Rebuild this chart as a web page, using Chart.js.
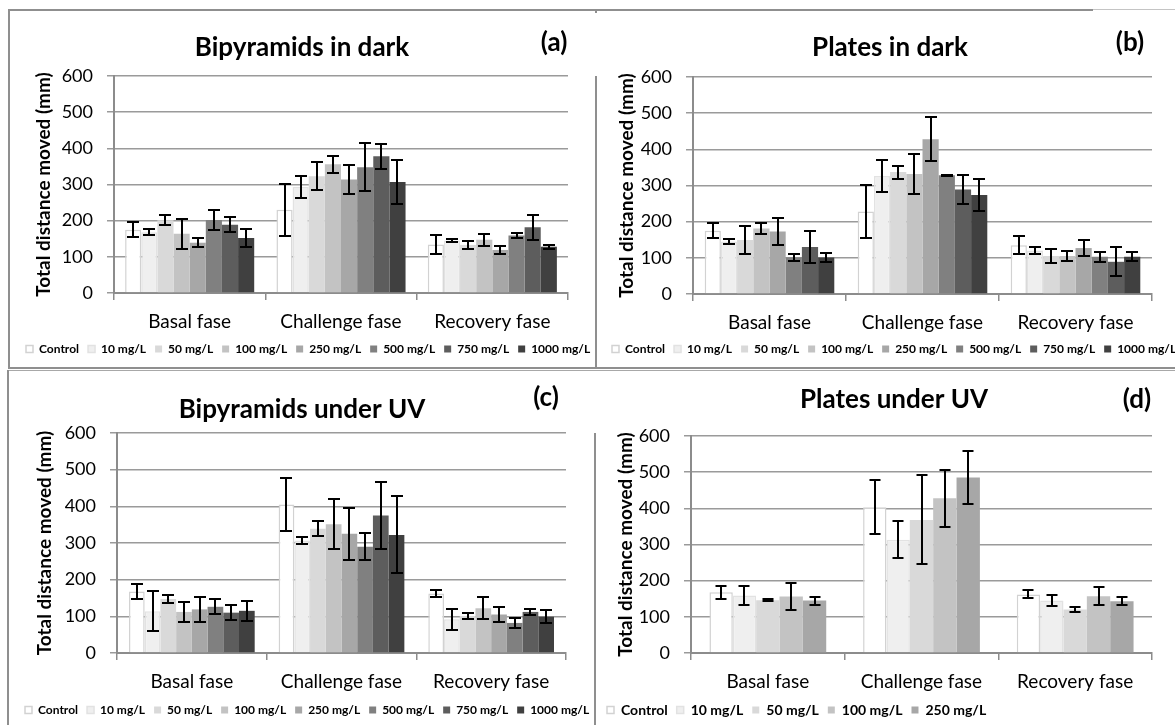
<!DOCTYPE html>
<html>
<head>
<meta charset="utf-8">
<script src="https://cdn.jsdelivr.net/npm/chart.js@4.4.1/dist/chart.umd.min.js"></script>
<style>
    html, body { margin: 0; padding: 0; background: #fff; }
    body { width: 1175px; height: 725px; position: relative; overflow: hidden; }
    canvas { position: absolute; }
    .ln { position: absolute; background: #8f8f8f; }
</style>
</head>
<body>
<div class="ln" style="left:8px;top:9px;width:1085px;height:2px;"></div>
<div class="ln" style="left:1093px;top:9px;width:82px;height:1px;background:#c4c4c4;"></div>
<div class="ln" style="left:8px;top:9px;width:2px;height:360px;"></div>
<div class="ln" style="left:595px;top:9px;width:2px;height:4px;"></div>
<div class="ln" style="left:595px;top:76px;width:2px;height:293px;"></div>
<div class="ln" style="left:8px;top:367px;width:1167px;height:2px;"></div>
<div class="ln" style="left:7px;top:370px;width:1168px;height:1px;background:#a8a8a8;"></div>
<div class="ln" style="left:7px;top:370px;width:2px;height:355px;"></div>
<div class="ln" style="left:594px;top:433px;width:2px;height:292px;"></div>

<canvas id="chartA" width="640" height="357" style="left:9px;top:11px;"></canvas>
<canvas id="chartB" width="640" height="357" style="left:597px;top:11px;"></canvas>
<canvas id="chartC" width="640" height="358" style="left:8px;top:371px;"></canvas>
<canvas id="chartD" width="640" height="358" style="left:596px;top:371px;"></canvas>

<script>
    'use strict';

    // categories and series
    const phases = ['Basal fase', 'Challenge fase', 'Recovery fase'];
    const doses = ['Control', '10 mg/L', '50 mg/L', '100 mg/L', '250 mg/L', '500 mg/L', '750 mg/L', '1000 mg/L'];
    const yMax = 600;
    const yStep = 100;
    const yTitle = 'Total distance moved (mm)';

    // (a) Bipyramids in dark: one row per dose, [basal, challenge, recovery]
    const bipyDarkMean = [
        [175, 230, 134],
        [168, 293, 145],
        [201, 323, 133],
        [164, 356, 147],
        [139, 314, 119],
        [202, 348, 159],
        [189, 378, 182],
        [152, 307, 128]
    ];
    const bipyDarkErr = [
        [21, 72, 25],
        [9, 31, 5],
        [14, 39, 11],
        [41, 24, 16],
        [13, 40, 12],
        [27, 66, 7],
        [21, 35, 35],
        [26, 60, 6]
    ];

    // (b) Plates in dark
    const plateDarkMean = [
        [175, 228, 135],
        [145, 326, 120],
        [149, 337, 105],
        [181, 332, 105],
        [173, 428, 127],
        [101, 328, 103],
        [130, 289, 89],
        [101, 274, 103]
    ];
    const plateDarkErr = [
        [21, 73, 24],
        [6, 44, 10],
        [39, 18, 20],
        [15, 56, 14],
        [38, 61, 21],
        [10, 2, 14],
        [45, 40, 40],
        [12, 44, 13]
    ];

    // (c) Bipyramids under UV
    const bipyUvMean = [
        [168, 405, 162],
        [114, 307, 92],
        [147, 339, 101],
        [112, 351, 122],
        [119, 325, 105],
        [126, 290, 82],
        [110, 375, 112],
        [115, 322, 99]
    ];
    const bipyUvErr = [
        [20, 72, 10],
        [54, 9, 29],
        [10, 20, 9],
        [28, 68, 30],
        [35, 71, 21],
        [20, 36, 13],
        [20, 91, 9],
        [27, 105, 17]
    ];

    // (d) Plates under UV (only up to 250 mg/L)
    const plateUvMean = [
        [168, 403, 162],
        [159, 313, 145],
        [146, 368, 120],
        [156, 428, 157],
        [145, 485, 143]
    ];
    const plateUvErr = [
        [18, 74, 11],
        [27, 51, 15],
        [3, 123, 6],
        [38, 79, 25],
        [11, 74, 11]
    ];

    const doseFill = ['#ffffff', '#efefef', '#d9d9d9', '#c3c3c3', '#a7a7a7', '#808080', '#5d5d5d', '#404040'];
    const doseBorder = ['#d2d2d2', '#e2e2e2', null, null, null, null, null, null];

    Chart.defaults.font.family = 'Lato, "Open Sans", sans-serif';
    Chart.defaults.color = '#000';

    const errorBars = {
        id: 'errorBars',
        afterDatasetsDraw: function(chart, args, opts) {
            const ctx = chart.ctx;
            const ys = chart.scales.y;
            const half = (opts.cap || 12) / 2;
            ctx.save();
            ctx.strokeStyle = '#000';
            ctx.lineWidth = 2;
            chart.data.datasets.forEach(function(ds, i) {
                const meta = chart.getDatasetMeta(i);
                meta.data.forEach(function(bar, j) {
                    const m = ds.data[j], e = ds.errors[j];
                    const yt = Math.round(ys.getPixelForValue(m + e));
                    const yb = Math.round(ys.getPixelForValue(m - e));
                    const x = Math.round(bar.x);
                    ctx.beginPath();
                    ctx.moveTo(x, yt); ctx.lineTo(x, yb);
                    ctx.moveTo(x - half, yt); ctx.lineTo(x + half, yt);
                    ctx.moveTo(x - half, yb); ctx.lineTo(x + half, yb);
                    ctx.stroke();
                });
            });
            ctx.restore();
        }
    };

    const panelText = {
        id: 'panelText',
        afterDraw: function(chart, args, opts) {
            const ctx = chart.ctx;
            ctx.save();
            ctx.fillStyle = '#000';
            ctx.textAlign = 'center';
            ctx.textBaseline = 'middle';
            ctx.font = 'bold 26px Lato, "Open Sans", sans-serif';
            ctx.fillText(opts.title, opts.titleX, opts.titleY);
            ctx.fillText(opts.tag, opts.tagX, opts.tagY);
            ctx.restore();
        }
    };

    function makePanel(p) {
        const datasets = p.means.map(function(row, i) {
            return {
                label: doses[i],
                data: row,
                errors: p.errs[i],
                backgroundColor: doseFill[i],
                borderColor: doseBorder[i] || doseFill[i],
                borderWidth: doseBorder[i] ? 1.5 : 0,
                categoryPercentage: p.catPct,
                barPercentage: 1.0
            };
        });

        return new Chart(document.getElementById(p.id), {
            type: 'bar',
            data: { labels: phases, datasets: datasets },
            plugins: [errorBars, panelText],
            options: {
                responsive: false,
                animation: false,
                layout: { padding: { left: p.padLeft, right: 0, top: p.areaTop, bottom: p.padBottom } },
                plugins: {
                    tooltip: { enabled: false },
                    legend: {
                        position: 'bottom',
                        align: 'start',
                        labels: {
                            boxWidth: 7,
                            boxHeight: 7,
                            padding: 9,
                            color: '#000',
                            font: { size: p.legendSize, weight: 'bold' }
                        }
                    },
                    errorBars: { cap: p.cap },
                    panelText: {
                        title: p.title, tag: p.tag,
                        titleX: p.titleX, titleY: p.titleY,
                        tagX: p.tagX, tagY: p.tagY
                    }
                },
                scales: {
                    x: {
                        grid: { display: true, drawOnChartArea: false, drawTicks: true, tickLength: 7, color: '#8c8c8c', lineWidth: 1.5, offset: true },
                        border: { display: true, color: '#8c8c8c', width: 2 },
                        ticks: { font: { size: 19 }, color: '#000', padding: 10, maxRotation: 0, autoSkip: false },
                        afterFit: function(s) { s.height = p.xHeight; }
                    },
                    y: {
                        min: 0,
                        max: yMax,
                        ticks: { stepSize: yStep, font: { size: 18 }, color: '#000', padding: 14 },
                        grid: { color: '#9a9a9a', lineWidth: 1.5, tickLength: 7, drawTicks: true },
                        border: { display: true, color: '#8c8c8c', width: 2 },
                        title: {
                            display: true,
                            text: yTitle,
                            color: '#000',
                            font: { size: 19, weight: 'bold', lineHeight: 1 },
                            padding: { top: p.yTitlePad, bottom: 0 }
                        },
                        afterFit: function(s) { s.width = p.yWidth; }
                    },
                    gap: {
                        position: 'right',
                        display: true,
                        grid: { display: false },
                        border: { display: false },
                        ticks: { display: false },
                        afterFit: function(s) { s.width = p.rightGap; }
                    }
                }
            }
        });
    }

    makePanel({
        id: 'chartA', title: 'Bipyramids in dark', tag: '(a)',
        means: bipyDarkMean, errs: bipyDarkErr,
        catPct: 0.853, cap: 12, legendSize: 12,
        padLeft: 8, yWidth: 97, yTitlePad: 17.5, rightGap: 81,
        areaTop: 65, padBottom: 3, xHeight: 41,
        titleX: 293, titleY: 37, tagX: 545, tagY: 32
    });

    makePanel({
        id: 'chartB', title: 'Plates in dark', tag: '(b)',
        means: plateDarkMean, errs: plateDarkErr,
        catPct: 0.847, cap: 12, legendSize: 12,
        padLeft: 6, yWidth: 90, yTitlePad: 14.5, rightGap: 85,
        areaTop: 66, padBottom: 3, xHeight: 40,
        titleX: 293, titleY: 37, tagX: 533, tagY: 32
    });

    makePanel({
        id: 'chartC', title: 'Bipyramids under UV', tag: '(c)',
        means: bipyUvMean, errs: bipyUvErr,
        catPct: 0.84, cap: 12, legendSize: 12,
        padLeft: 8, yWidth: 101, yTitlePad: 19, rightGap: 82,
        areaTop: 62, padBottom: 3, xHeight: 42,
        titleX: 294, titleY: 39, tagX: 538, tagY: 27
    });

    makePanel({
        id: 'chartD', title: 'Plates under UV', tag: '(d)',
        means: plateUvMean, errs: plateUvErr,
        catPct: 0.76, cap: 11, legendSize: 14,
        padLeft: 2, yWidth: 93, yTitlePad: 18, rightGap: 84,
        areaTop: 65, padBottom: 2, xHeight: 41,
        titleX: 298, titleY: 29, tagX: 541, tagY: 29
    });
</script>
</body>
</html>
